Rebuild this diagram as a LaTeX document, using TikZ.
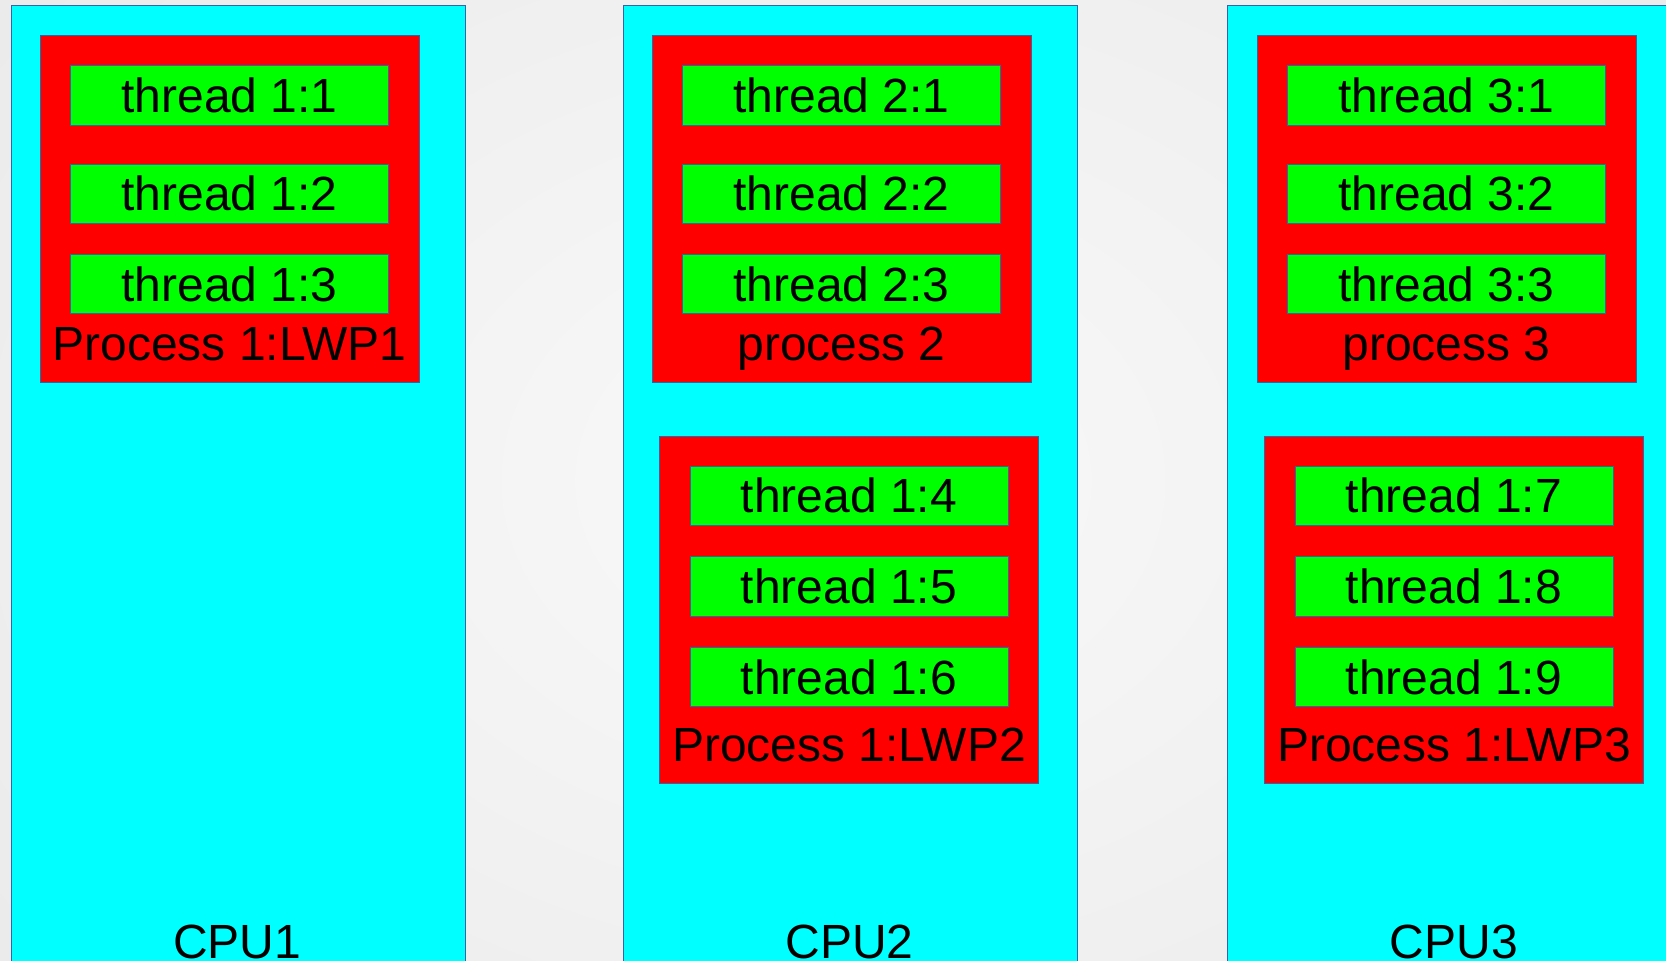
\documentclass[tikz,border=0pt]{standalone}
\usepackage{fontspec}
\setmainfont{Liberation Sans}
\definecolor{cpufill}{HTML}{00FFFF}
\definecolor{procfill}{HTML}{FF0000}
\definecolor{thrfill}{HTML}{00FF00}
\definecolor{edge}{HTML}{3465A4}
\definecolor{bgin}{HTML}{F9F9F9}
\definecolor{bgout}{HTML}{EBEBEB}
\tikzset{
  bigtext/.style={font=\fontsize{48}{57}\selectfont},
  cpubox/.style={draw=edge, line width=1pt, fill=cpufill, rectangle, inner sep=0pt,
    minimum width=454pt, minimum height=1000pt},
  procbox/.style={draw=edge, line width=0.8pt, fill=procfill, rectangle, inner sep=0pt,
    minimum width=379pt, minimum height=347pt},
  thrbox/.style={draw=edge, line width=0.8pt, fill=thrfill, rectangle, inner sep=0pt,
    minimum width=318pt, minimum height=59.5pt, bigtext, text height=34.2pt, text depth=0pt},
  lbl/.style={bigtext, anchor=base, inner sep=0pt},
}
\begin{document}
\begin{tikzpicture}[x=1pt, y=-1pt]
  \useasboundingbox (0,0) rectangle (1666,961);
  \clip (0,0) rectangle (1666,961);
  % slide background
  \shade[inner color=bgin, outer color=bgout] (-200,-300) rectangle (1866,1261);

  % CPU columns
  \node[cpubox, anchor=north west] (cpu1) at (10.5,4.5) {};
  \node[cpubox, anchor=north west] (cpu2) at (622.5,4.5) {};
  \node[cpubox, anchor=north west] (cpu3) at (1227,4.5) {};
  \node[lbl] (cpu1lbl) at (237.25,958) {CPU1};
  \node[lbl] (cpu2lbl) at (849.5,958) {CPU2};
  \node[lbl] (cpu3lbl) at (1454,958) {CPU3};

  % CPU1: process 1, LWP1
  \node[procbox, anchor=north] (p1) at (229.5,35) {};
  \node[thrbox] (t11) at (229.5,95.5) {thread 1:1};
  \node[thrbox] (t12) at (229.5,193.75) {thread 1:2};
  \node[thrbox] (t13) at (229.5,284) {thread 1:3};
  \node[lbl] (p1lbl) at (229.5,360) {Process 1:LWP1};

  % CPU2: process 2
  \node[procbox, anchor=north] (p2) at (841.5,35) {};
  \node[thrbox] (t21) at (841.5,95.5) {thread 2:1};
  \node[thrbox] (t22) at (841.5,193.75) {thread 2:2};
  \node[thrbox] (t23) at (841.5,284) {thread 2:3};
  \node[lbl] (p2lbl) at (841.5,360) {process 2};

  % CPU2: process 1, LWP2
  \node[procbox, anchor=north] (l2) at (849,435.5) {};
  \node[thrbox] (t14) at (849,495.75) {thread 1:4};
  \node[thrbox] (t15) at (849,586.5) {thread 1:5};
  \node[thrbox] (t16) at (849,677) {thread 1:6};
  \node[lbl] (l2lbl) at (849,761) {Process 1:LWP2};

  % CPU3: process 3
  \node[procbox, anchor=north] (p3) at (1446.5,35) {};
  \node[thrbox] (t31) at (1446.5,95.5) {thread 3:1};
  \node[thrbox] (t32) at (1446.5,193.75) {thread 3:2};
  \node[thrbox] (t33) at (1446.5,284) {thread 3:3};
  \node[lbl] (p3lbl) at (1446.5,360) {process 3};

  % CPU3: process 1, LWP3
  \node[procbox, anchor=north] (l3) at (1454,435.5) {};
  \node[thrbox] (t17) at (1454,495.75) {thread 1:7};
  \node[thrbox] (t18) at (1454,586.5) {thread 1:8};
  \node[thrbox] (t19) at (1454,677) {thread 1:9};
  \node[lbl] (l3lbl) at (1454,761) {Process 1:LWP3};
\end{tikzpicture}
\end{document}
